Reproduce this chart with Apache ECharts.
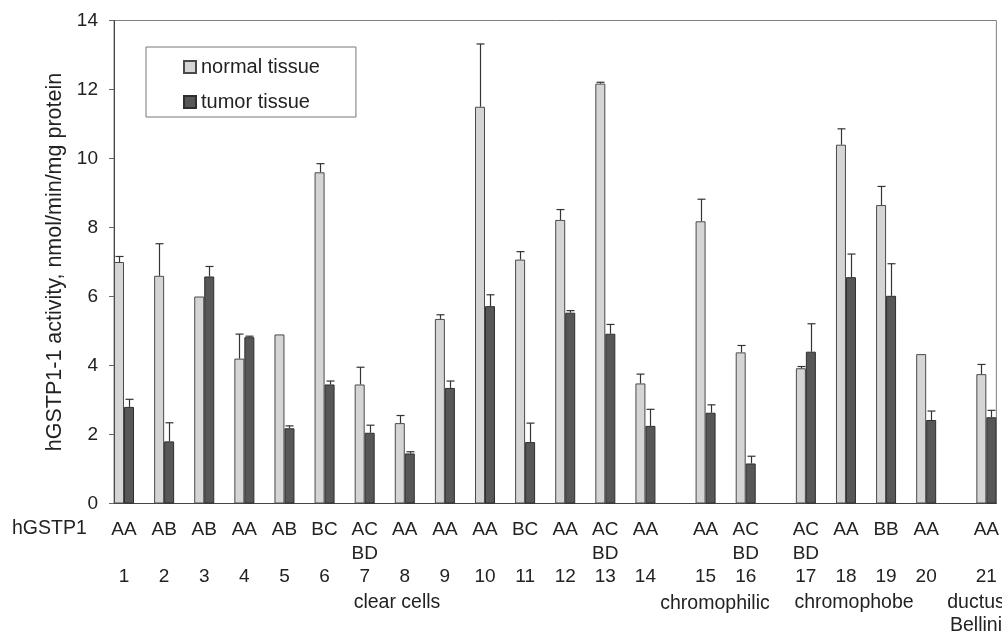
<!DOCTYPE html>
<html>
<head>
<meta charset="utf-8">
<script src="https://cdn.jsdelivr.net/npm/echarts@6/dist/echarts.min.js"></script>
<style>
html,body{margin:0;padding:0;background:#fff;}
#chart{width:1002px;height:635px;}
</style>
</head>
<body>
<div id="chart"></div>
<script>
// ---- data ----
const cases = ['1','2','3','4','5','6','7','8','9','10','11','12','13','14','15','16','17','18','19','20','21'];
const genotypes = ['AA','AB','AB','AA','AB','BC','AC\nBD','AA','AA','AA','BC','AA','AC\nBD','AA','AA','AC\nBD','AC\nBD','AA','BB','AA','AA'];
const groupOf = [0,0,0,0,0,0,0,0,0,0,0,0,0,0,1,1,2,2,2,2,3];
const groupNames = ['clear cells','chromophilic','chromophobe','ductus\nBellini'];
const normal    = [7.0, 6.6, 6.0, 4.2, 4.9, 9.6, 3.45, 2.33, 5.35, 11.5, 7.07, 8.22, 12.17, 3.48, 8.18, 4.38, 3.92, 10.4, 8.65, 4.33, 3.75];
const normalErr = [0.16, 0.93, 0, 0.71, 0, 0.25, 0.5, 0.22, 0.12, 1.82, 0.23, 0.3, 0.04, 0.27, 0.64, 0.2, 0.05, 0.46, 0.54, 0, 0.28];
const tumor     = [2.8, 1.8, 6.58, 4.82, 2.18, 3.45, 2.05, 1.45, 3.35, 5.72, 1.78, 5.53, 4.92, 2.25, 2.63, 1.16, 4.4, 6.56, 6.02, 2.42, 2.5];
const tumorErr  = [0.22, 0.54, 0.29, 0.03, 0.07, 0.1, 0.22, 0.05, 0.2, 0.33, 0.55, 0.06, 0.27, 0.48, 0.23, 0.21, 0.81, 0.67, 0.93, 0.26, 0.2];
const yTicks = {min: 0, max: 14, interval: 2};
const yTitle = 'hGSTP1-1 activity, nmol/min/mg protein';
const rowTitle = 'hGSTP1';

// ---- build half-slot category axis (groups separated by half a slot) ----
const slotIndex = cases.map((c, i) => 2 * i + groupOf[i]);
const nSlots = slotIndex[slotIndex.length - 1] + 1;
const axisCats = [];
const labelOf = {};
const normalData = [];
const tumorData = [];
for (let k = 0; k < nSlots; k++) { axisCats.push(String(k)); normalData.push(null); tumorData.push(null); }
cases.forEach((c, i) => {
  const k = slotIndex[i];
  const g = genotypes[i].split('\n');
  labelOf[k] = (g.length > 1 ? g.join('\n') : g[0] + '\n ') + '\n' + c;
  normalData[k] = normal[i];
  tumorData[k] = tumor[i];
});
const normalErrData = cases.map((c, i) => [slotIndex[i], normal[i], normalErr[i]]);
const tumorErrData = cases.map((c, i) => [slotIndex[i], tumor[i], tumorErr[i]]);

const BAR_W = 10;
const FONT = 'Liberation Sans, Arial, sans-serif';

function errRender(offsetSign) {
  return function (params, api) {
    const e = api.value(2);
    if (!e) return null;
    const base = api.coord([api.value(0), api.value(1)]);
    const top = api.coord([api.value(0), api.value(1) + e]);
    const x = Math.round(base[0] + offsetSign * BAR_W / 2) + 0.5;
    const style = {stroke: '#333', lineWidth: 1.2};
    return {
      type: 'group',
      children: [
        {type: 'line', shape: {x1: x, y1: base[1], x2: x, y2: top[1]}, style: style},
        {type: 'line', shape: {x1: x - 4, y1: top[1], x2: x + 4, y2: top[1]}, style: style}
      ]
    };
  };
}

const chart = echarts.init(document.getElementById('chart'), null, {renderer: 'canvas'});
chart.setOption({
  animation: false,
  backgroundColor: '#fff',
  textStyle: {fontFamily: FONT},
  grid: {left: 114, right: 4, top: 20.5, bottom: 131.5, show: true, borderColor: '#808080', borderWidth: 1},
  legend: {
    orient: 'vertical', left: 146, top: 47,
    padding: [10, 36, 5, 37], itemGap: 15,
    itemWidth: 12, itemHeight: 12, icon: 'rect',
    borderColor: '#777', borderWidth: 1,
    textStyle: {fontSize: 20, color: '#222', fontFamily: FONT, lineHeight: 20},
    data: ['normal tissue', 'tumor tissue']
  },
  xAxis: {
    type: 'category', data: axisCats, boundaryGap: true,
    axisLine: {lineStyle: {color: '#444', width: 1}},
    axisTick: {show: false},
    axisLabel: {
      interval: 0, margin: 15, fontSize: 19, color: '#222', lineHeight: 23.5, fontFamily: FONT,
      formatter: function (v) { return labelOf[v] || ''; }
    },
    splitLine: {show: false}
  },
  yAxis: {
    type: 'value', min: yTicks.min, max: yTicks.max, interval: yTicks.interval,
    name: yTitle, nameLocation: 'middle', nameGap: 42,
    nameTextStyle: {fontSize: 21.5, color: '#222', fontFamily: FONT},
    axisLine: {show: true, lineStyle: {color: '#444', width: 1}},
    axisTick: {show: true, length: 5, lineStyle: {color: '#666'}},
    axisLabel: {margin: 16, fontSize: 19, color: '#222', fontFamily: FONT},
    splitLine: {show: false}
  },
  graphic: [
    {type: 'text', left: 12, top: 519, style: {text: rowTitle, fontSize: 19.5, fill: '#222', fontFamily: FONT}},
    {type: 'text', x: 397, y: 603, style: {text: groupNames[0], fontSize: 19.5, fill: '#222', fontFamily: FONT, align: 'center', verticalAlign: 'middle'}},
    {type: 'text', x: 715, y: 604, style: {text: groupNames[1], fontSize: 19.5, fill: '#222', fontFamily: FONT, align: 'center', verticalAlign: 'middle'}},
    {type: 'text', x: 854, y: 603, style: {text: groupNames[2], fontSize: 19.5, fill: '#222', fontFamily: FONT, align: 'center', verticalAlign: 'middle'}},
    {type: 'text', x: 976, y: 614.5, style: {text: groupNames[3], fontSize: 19.5, lineHeight: 23, fill: '#222', fontFamily: FONT, align: 'center', verticalAlign: 'middle'}}
  ],
  series: [
    {
      name: 'normal tissue', type: 'bar', data: normalData, barWidth: BAR_W, barGap: '0%',
      itemStyle: {color: '#d5d5d5', borderColor: '#4a4a4a', borderWidth: 1}
    },
    {
      name: 'tumor tissue', type: 'bar', data: tumorData, barWidth: BAR_W, barGap: '0%',
      itemStyle: {color: '#575757', borderColor: '#2e2e2e', borderWidth: 1}
    },
    {type: 'custom', renderItem: errRender(-1), data: normalErrData, z: 5, silent: true},
    {type: 'custom', renderItem: errRender(1), data: tumorErrData, z: 5, silent: true}
  ]
});
</script>
</body>
</html>
